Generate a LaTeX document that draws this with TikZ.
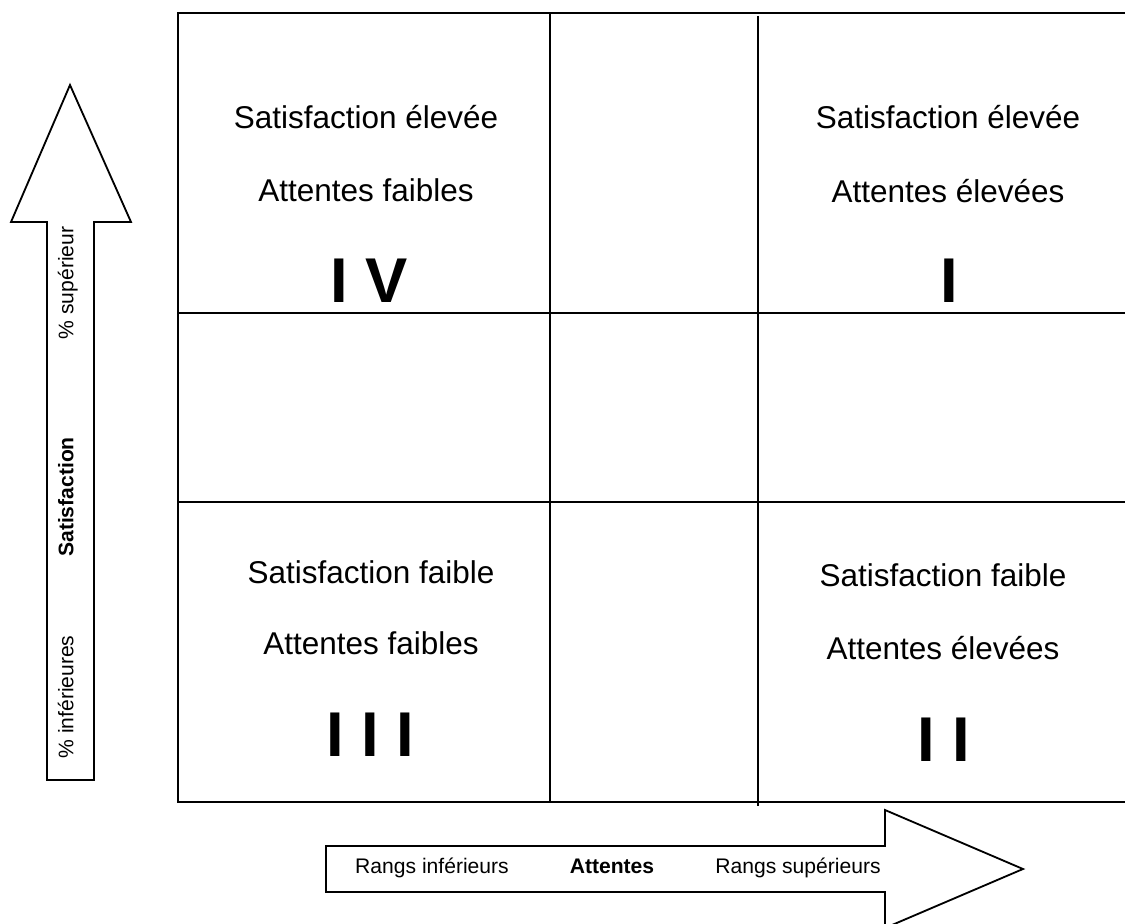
\documentclass[tikz,border=0pt]{standalone}
\usepackage{fontspec}
\setmainfont{Liberation Sans}
\usetikzlibrary{calc}

\begin{document}
\begin{tikzpicture}[x=0.025cm,y=-0.025cm,line width=1.3pt,
  quad/.style={font=\fontsize{22.4}{26}\selectfont},
  roman/.style={font=\fontsize{45}{50}\selectfont\bfseries},
  axis/.style={font=\fontsize{15}{18}\selectfont,text height=1.6ex,text depth=0.4ex}]
  \useasboundingbox (0,0) rectangle (1125,924);

  % grid
  \coordinate (nw) at (178,13);
  \coordinate (sw) at (178,802);
  \draw (1125,13) -- (nw) -- (sw) -- (1125,802);
  \draw (178,313) -- (1125,313);
  \draw (178,502) -- (1125,502);
  \draw (550,13) -- (550,802);
  \draw (758,16) -- (758,806);

  % vertical arrow
  \coordinate (vtip) at (70,85);
  \draw (47,780) -- (47,222) -- (11,222) -- (vtip) -- (131,222)
    -- (94,222) -- (94,780) -- cycle;

  % horizontal arrow
  \coordinate (htip) at (1023,869);
  \draw (326,846) -- (885,846) -- (885,810) -- (htip) -- (885,928)
    -- (885,892) -- (326,892) -- cycle;

  % quadrants
  \node [quad] (s4) at (366,117) {Satisfaction élevée};
  \node [quad] (a4) at (366,190) {Attentes faibles};
  \node [roman] (n4) at (369,281) {I V};

  \node [quad] (s1) at (948,117) {Satisfaction élevée};
  \node [quad] (a1) at (948,191) {Attentes élevées};
  \node [roman] (n1) at (949,281) {I};

  \node [quad] (s3) at (371,572) {Satisfaction faible};
  \node [quad] (a3) at (371,643) {Attentes faibles};
  \node [roman] (n3) at (370,735) {I I I};

  \node [quad] (s2) at (943,575) {Satisfaction faible};
  \node [quad] (a2) at (943,648) {Attentes élevées};
  \node [roman] (n2) at (944,740) {I I};

  % axis labels
  \node [axis,rotate=90] (vhi) at (69,283) {\% supérieur};
  \node [axis,rotate=90,font=\fontsize{15}{18}\selectfont\bfseries] (vmid) at (69,497) {Satisfaction};
  \node [axis,rotate=90] (vlo) at (69,697) {\% inférieures};

  \node [axis] (hlo) at (432,869) {Rangs inférieurs};
  \node [axis,font=\fontsize{15}{18}\selectfont\bfseries] (hmid) at (612,869) {Attentes};
  \node [axis] (hhi) at (798,869) {Rangs supérieurs};
\end{tikzpicture}
\end{document}
